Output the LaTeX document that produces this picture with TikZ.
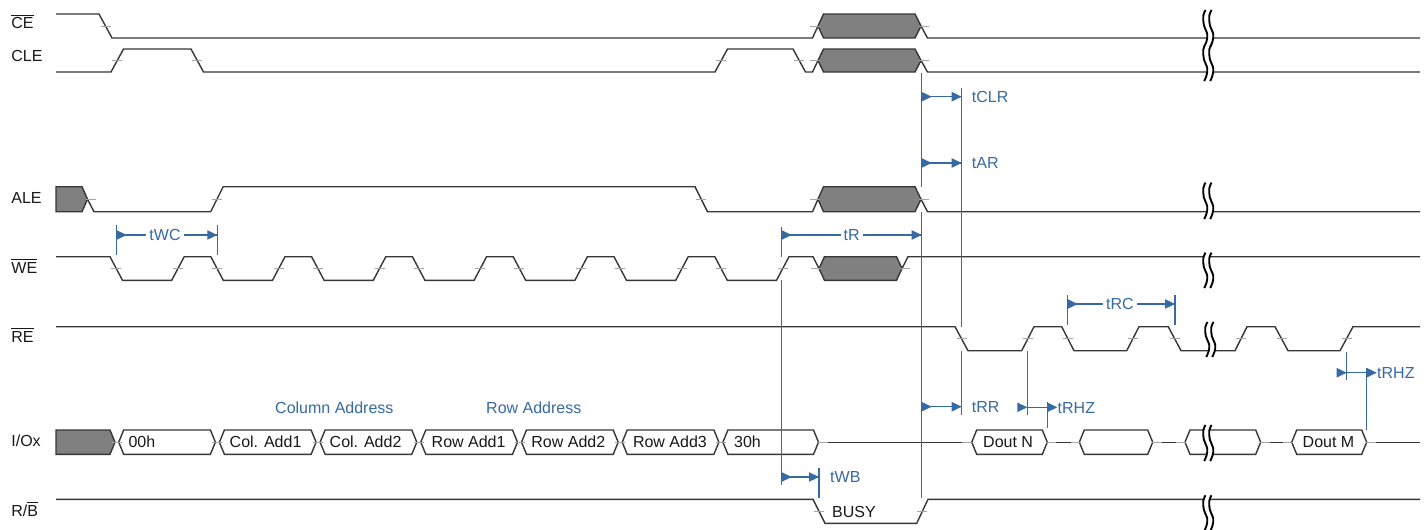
\documentclass[tikz,border=0pt]{standalone}
\usepackage{fontspec}
\setmainfont{Liberation Sans}
\definecolor{sigc}{RGB}{55,55,55}
\definecolor{shadec}{RGB}{128,128,128}
\definecolor{tickc}{RGB}{165,165,165}
\definecolor{tblue}{RGB}{55,106,163}
\newcommand\ovl[1]{\vbox{\hrule height 1pt\kern 1.8pt\hbox{#1}}}
\newcommand\busbox[2]{\draw[box] (#1,442.2) -- ({#1+5},430) -- ({#2-5},430) -- (#2,442.2) -- ({#2-5},454.3) -- ({#1+5},454.3) -- cycle;}
\newcommand\tk[2]{\draw[tick] ({#1-5},#2) -- ({#1+5},#2);}
\newcommand\tri[2]{\fill[tblue] (#1,{#2-4.8}) -- ({#1+10},#2) -- (#1,{#2+4.8}) -- cycle;}
\newcommand\brk[3]{%
  \pgfmathsetmacro\brkh{#3-#2}%
  \fill[white] ({#1+2.5},#2) -- ({#1+0.3},{#2+0.15*\brkh}) -- ({#1+0.8},{#2+0.4*\brkh}) -- ({#1+4.2},{#2+0.65*\brkh}) -- ({#1+3.5},{#2+0.85*\brkh}) -- ({#1+1.2},#3) -- ({#1+7.2},#3) -- ({#1+9.5},{#2+0.85*\brkh}) -- ({#1+10.2},{#2+0.65*\brkh}) -- ({#1+6.8},{#2+0.4*\brkh}) -- ({#1+6.3},{#2+0.15*\brkh}) -- ({#1+8.5},#2) -- cycle;
  \foreach \dx in {0,6}{%
    \draw[brkl] plot[smooth, tension=0.6] coordinates {({#1+2.5+\dx},#2) ({#1+0.3+\dx},{#2+0.15*\brkh}) ({#1+0.8+\dx},{#2+0.4*\brkh}) ({#1+4.2+\dx},{#2+0.65*\brkh}) ({#1+3.5+\dx},{#2+0.85*\brkh}) ({#1+1.2+\dx},#3)};
  }%
}
\begin{document}
\begin{tikzpicture}[x=1pt,y=-1pt,
  sig/.style={draw=sigc, line width=1.4pt, line join=miter},
  hexs/.style={draw=sigc, fill=shadec, line width=1.4pt},
  box/.style={draw=sigc, fill=white, line width=1.4pt},
  tick/.style={draw=tickc, line width=1pt},
  tl/.style={draw=tblue, line width=1.2pt},
  brkl/.style={draw=black, line width=1.9pt},
  lbl/.style={anchor=west, inner sep=0pt, text height=11.5pt, text depth=0pt, font=\fontsize{16}{19}\selectfont, text=black!90},
  tlab/.style={lbl, text=tblue},
]
\useasboundingbox (0,0) rectangle (1428,530);
\fill[white] (0,0) rectangle (1428,530);

% ---------- signal labels
\node[lbl] (lce) at (11.2,22.8) {\ovl{CE}};
\node[lbl] (lcle) at (11.2,55.5) {CLE};
\node[lbl] (lale) at (11.2,197.5) {ALE};
\node[lbl] (lwe) at (11.2,267.5) {\ovl{WE}};
\node[lbl] (lre) at (11.2,336.5) {\ovl{RE}};
\node[lbl] (lio) at (11.2,440.8) {I/Ox};
\node[lbl] (lrb) at (11.2,510.5) {R/\ovl{B}};

% ---------- CE
\draw[sig] (56,14) -- (99,14) -- (112,38) -- (812.5,38) -- (818,26);
\draw[hexs] (818,26) -- (823.5,14) -- (915,14) -- (921,26) -- (915,38) -- (823.5,38) -- cycle;
\draw[sig] (921,26) -- (927.5,38) -- (1420,38);

% ---------- CLE
\draw[sig] (56,72) -- (111,72) -- (123.5,49) -- (191,49) -- (203.5,72) -- (715,72) -- (727.5,49) -- (793,49) -- (805.5,72) -- (812.5,72) -- (818,60.5);
\draw[hexs] (818,60.5) -- (823.5,49) -- (915,49) -- (921,60.5) -- (915,72) -- (823.5,72) -- cycle;
\draw[sig] (921,60.5) -- (927.5,72) -- (1420,72);

% ---------- ALE
\draw[hexs] (56,186.7) -- (82,186.7) -- (87.5,199.2) -- (82,211.7) -- (56,211.7) -- cycle;
\draw[sig] (87.5,199.2) -- (94,211.7) -- (210.7,211.7) -- (223.2,186.7) -- (695,186.7) -- (707.5,211.7) -- (812.5,211.7) -- (818,199.2);
\draw[hexs] (818,199.2) -- (823.5,186.7) -- (915,186.7) -- (921,199.2) -- (915,211.7) -- (823.5,211.7) -- cycle;
\draw[sig] (921,199.2) -- (927.5,211.7) -- (1420,211.7);

% ---------- WE
\draw[sig] (56,256.7)
  -- (110,256.7) -- (122.5,280.3) -- (171.7,280.3) -- (184.2,256.7)
  -- (210.8,256.7) -- (223.3,280.3) -- (272.5,280.3) -- (285,256.7)
  -- (311.6,256.7) -- (324.1,280.3) -- (373.3,280.3) -- (385.8,256.7)
  -- (412.4,256.7) -- (424.9,280.3) -- (474.1,280.3) -- (486.6,256.7)
  -- (513.2,256.7) -- (525.7,280.3) -- (574.9,280.3) -- (587.4,256.7)
  -- (614,256.7) -- (626.5,280.3) -- (675.7,280.3) -- (688.2,256.7)
  -- (714.8,256.7) -- (727.3,280.3) -- (776.5,280.3) -- (789,256.7)
  -- (813,256.7) -- (819,268.5);
\draw[hexs] (819,268.5) -- (824.5,256.7) -- (896.5,256.7) -- (902,268.5) -- (896.5,280.3) -- (824.5,280.3) -- cycle;
\draw[sig] (902,268.5) -- (908,256.7) -- (1420,256.7);

% ---------- RE
\draw[sig] (56,326.7) -- (955,326.7) -- (968,350.7) -- (1021.7,350.7) -- (1034,326.7) -- (1061.7,326.7) -- (1074,350.7) -- (1126.7,350.7) -- (1139,326.7) -- (1168.3,326.7) -- (1181,350.7) -- (1235,350.7) -- (1247,326.7) -- (1275,326.7) -- (1288,350.7) -- (1340,350.7) -- (1353,326.7) -- (1420,326.7);

% ---------- R/B
\draw[sig] (56,499.3) -- (813,499.3) -- (825,523.3) -- (916.7,523.3) -- (928,499.3) -- (1420,499.3);

% ---------- I/Ox
\draw[sig] (818.5,442.2) -- (1420,442.2);
\draw[hexs] (56,430) -- (110,430) -- (115,442.2) -- (110,454.3) -- (56,454.3) -- cycle;
\busbox{118.7}{215.4}
\busbox{219.4}{316.1}
\busbox{320.1}{416.8}
\busbox{420.8}{517.5}
\busbox{521.5}{618.2}
\busbox{622.2}{718.9}
\busbox{722.9}{818.5}
\busbox{971.7}{1047.3}
\busbox{1079.3}{1152.7}
\busbox{1185}{1260.7}
\busbox{1291.7}{1366.7}

% ---------- ticks
\foreach \x in {105.5,815,924} {\tk{\x}{26}}
\foreach \x in {117.25,197.25,721.25,799.25,815,924} {\tk{\x}{60.5}}
\foreach \x in {90.5,217,701.25,815,924} {\tk{\x}{199.2}}
\foreach \x in {116.25,217.05,317.85,418.65,519.45,620.25,721.05,177.95,278.75,379.55,480.35,581.15,681.95,782.75,816,905} {\tk{\x}{268.5}}
\foreach \x in {961.5,1027.85,1067.85,1132.85,1174.65,1241,1281.5,1346.5} {\tk{\x}{338.7}}
\foreach \x in {819,922.4} {\tk{\x}{511.3}}
\foreach \x in {116.7,217.4,318.1,418.8,519.5,620.2,720.9,822.6,967.3,1051.2,1076,1156.7,1180.8,1264.6,1287.6,1370.8} {\tk{\x}{442.2}}

% ---------- breaks
\brk{1203}{10}{47}
\brk{1203}{44}{81}
\brk{1203}{182.7}{219}
\brk{1203}{252.7}{288}
\brk{1205}{322}{357}
\brk{1203}{425}{461}
\brk{1203}{495.3}{531}

% ---------- bus texts
\node[lbl] (t00) at (128.3,442.2) {00h};
\node[lbl] (tc1) at (229.5,442.2) {Col. Add1};
\node[lbl] (tc2) at (329.5,442.2) {Col. Add2};
\node[lbl] (tr1) at (431.5,442.2) {Row Add1};
\node[lbl] (tr2) at (531.2,442.2) {Row Add2};
\node[lbl] (tr3) at (632.8,442.2) {Row Add3};
\node[lbl] (t30) at (734,442.2) {30h};
\node[lbl] (tdn) at (983,442.2) {Dout N};
\node[lbl] (tdm) at (1302.5,442.2) {Dout M};
\node[lbl] (tbusy) at (832,511.5) {BUSY};
\node[tlab] (tcol) at (275,407.3) {Column Address};
\node[tlab] (trow) at (486,407.3) {Row Address};

% ---------- timing lines
\draw[tl] (116.7,225) -- (116.7,255);
\draw[tl] (217.3,225) -- (217.3,255);
\draw[tl] (781.7,226.7) -- (781.7,257);
\draw[tl] (781.7,280) -- (781.7,485);
\draw[tl] (921.7,73) -- (921.7,186.7);
\draw[tl] (921.7,211.7) -- (921.7,498);
\draw[tl] (961.7,88) -- (961.7,326.7);
\draw[tl] (961.7,350.7) -- (961.7,415);
\draw[tl] (1027.3,350.7) -- (1027.3,415);
\draw[tl] (1047.3,401.7) -- (1047.3,428);
\draw[tl] (1067.7,295) -- (1067.7,325);
\draw[tl] (1175,295) -- (1175,325);
\draw[tl] (819,468) -- (819,498);
\draw[tl] (1346.7,351.7) -- (1346.7,380);
\draw[tl] (1366.7,368) -- (1366.7,430);

% tWC
\draw[tl] (116.7,235) -- (217.3,235); \tri{116.7}{235} \tri{207.3}{235}
\node[tlab, anchor=center, fill=white, inner xsep=3pt] (ltwc) at (165,235) {tWC};
% tR
\draw[tl] (781.7,235) -- (921.7,235); \tri{781.7}{235} \tri{911.7}{235}
\node[tlab, anchor=center, fill=white, inner xsep=3pt] (ltr) at (851.7,235) {tR};
% tRC
\draw[tl] (1067.7,304) -- (1175,304); \tri{1067.7}{304} \tri{1165}{304}
\node[tlab, anchor=center, fill=white, inner xsep=3pt] (ltrc) at (1120,304) {tRC};
% tCLR
\draw[tl] (921.7,96.7) -- (961.7,96.7); \tri{921.7}{96.7} \tri{951.7}{96.7}
\node[tlab] (ltclr) at (971.7,96.7) {tCLR};
% tAR
\draw[tl] (921.7,163) -- (961.7,163); \tri{921.7}{163} \tri{951.7}{163}
\node[tlab] (ltar) at (971.7,163) {tAR};
% tRR
\draw[tl] (921.7,406.7) -- (961.7,406.7); \tri{921.7}{406.7} \tri{951.7}{406.7}
\node[tlab] (ltrr) at (971.7,406.7) {tRR};
% tWB
\draw[tl] (781.7,477) -- (819,477); \tri{781.7}{477} \tri{809}{477}
\node[tlab] (ltwb) at (830,477) {tWB};
% tRHZ 1
\draw[tl] (1027.3,407.3) -- (1047.3,407.3); \tri{1017.3}{407.3} \tri{1047.3}{407.3}
\node[tlab] (ltrhz) at (1057.5,407.3) {tRHZ};
% tRHZ 2
\draw[tl] (1346.7,372.7) -- (1366.7,372.7); \tri{1336.7}{372.7} \tri{1366.7}{372.7}
\node[tlab] (ltrhzb) at (1377,372.7) {tRHZ};
\end{tikzpicture}
\end{document}
